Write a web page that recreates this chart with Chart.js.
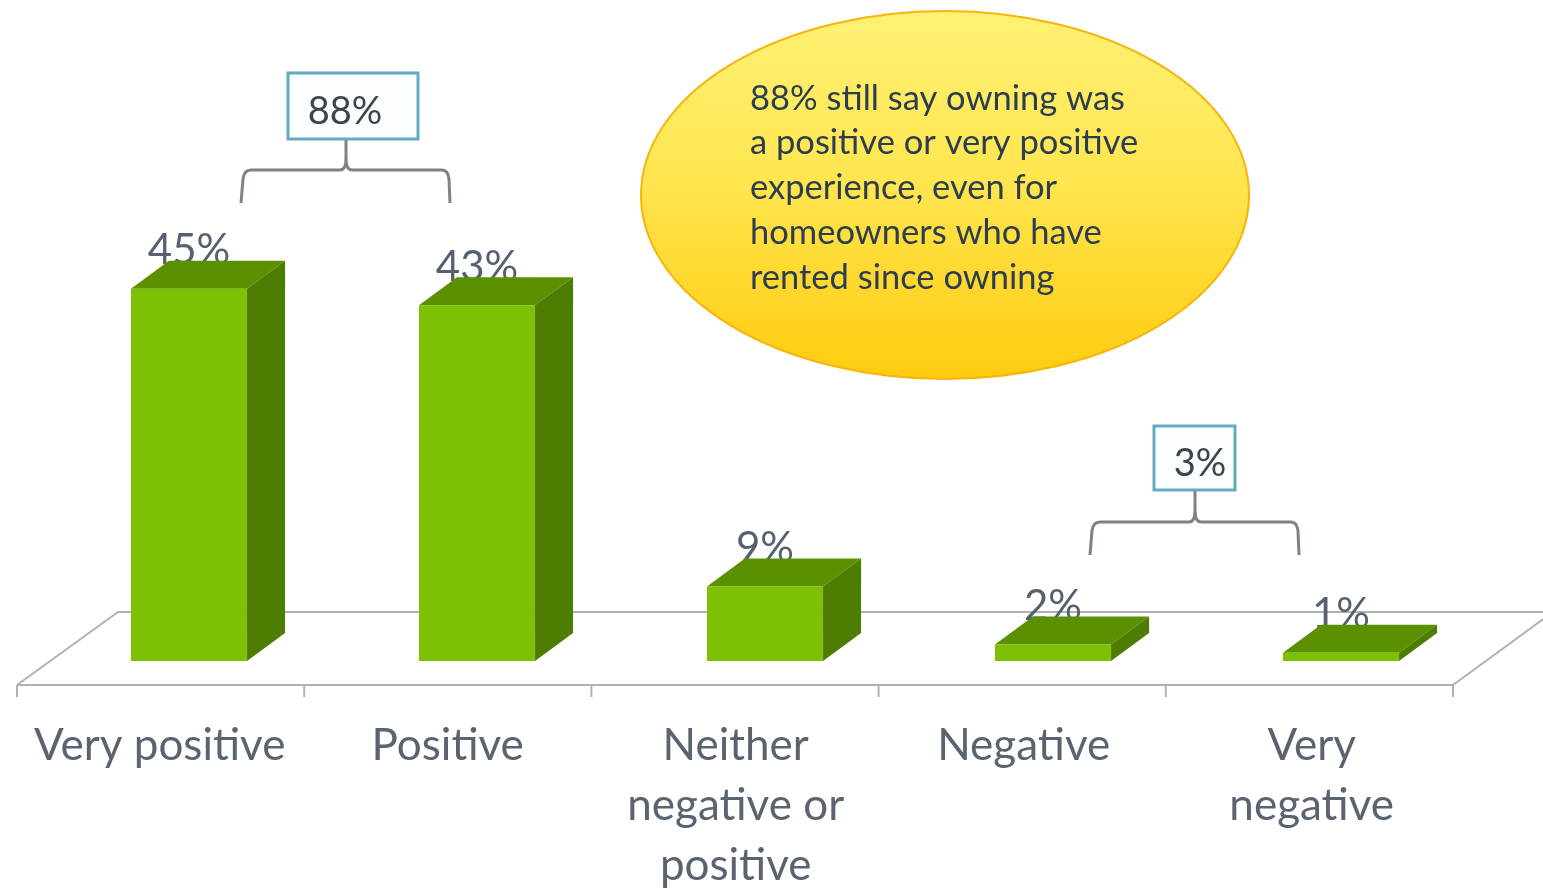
<!DOCTYPE html>
<html><head><meta charset="utf-8">
<style>html,body{margin:0;padding:0;background:#fff;overflow:hidden}canvas{display:block}</style>
<script src="https://cdn.jsdelivr.net/npm/chart.js@4"></script>
</head><body><div style="width:1543px;height:889px;position:relative"><canvas id="c"></canvas></div>
<script>
const categories = [["Very positive"],["Positive"],["Neither","negative or","positive"],["Negative"],["Very","negative"]];
const values = [45,43,9,2,1];
const calloutTexts = ["88%","3%"];
const noteLines = ["88% still say owning was","a positive or very positive","experience, even for","homeowners who have","rented since owning"];
const FONT = 'Lato, "Open Sans", sans-serif';
const DX = 38, DY = -28;

function poly(ctx, pts, fill){ctx.beginPath();pts.forEach((p,i)=>i?ctx.lineTo(p[0],p[1]):ctx.moveTo(p[0],p[1]));ctx.closePath();ctx.fillStyle=fill;ctx.fill();}

const floorAndFaces = {
  id:'floorAndFaces',
  beforeDatasetsDraw(chart){
    const {ctx,scales:{x}} = chart;
    const frontY = 685, backY = 612, fl = x.left-28, fr = x.right-32;
    ctx.save();
    ctx.strokeStyle='#b0b2b2';ctx.lineWidth=2;
    ctx.beginPath();
    ctx.moveTo(fl,frontY);ctx.lineTo(fr,frontY);
    ctx.moveTo(fl,frontY);ctx.lineTo(fl+101,backY);ctx.lineTo(fr+100,backY);
    ctx.moveTo(fr,frontY);ctx.lineTo(fr+100,backY);
    for(let i=0;i<=categories.length;i++){
      const t = fl+(fr-fl)*i/categories.length;
      ctx.moveTo(t,frontY);ctx.lineTo(t,frontY+12);
    }
    ctx.stroke();
    const meta = chart.getDatasetMeta(0);
    // value labels sit behind the bars
    ctx.font='42px '+FONT;ctx.fillStyle='#56616f';ctx.textAlign='center';ctx.textBaseline='middle';
    meta.data.forEach((b,i)=>ctx.fillText(values[i]+'%',b.x,b.y-38));
    meta.data.forEach(b=>{
      const l=b.x-b.width/2,r=b.x+b.width/2,t=b.y,bot=b.base;
      poly(ctx,[[l,t],[r,t],[r+DX,t+DY],[l+DX,t+DY]],'#5b9000');
      poly(ctx,[[r,t],[r+DX,t+DY],[r+DX,bot+DY],[r,bot]],'#4c7c00');
    });
    ctx.restore();
  },
  afterDraw(chart){
    const {ctx} = chart;
    ctx.save();
    // callouts
    const brace=(x0,xm,x1,yb,yt,boxL,boxT,boxR,boxB,txt,tx)=>{
      ctx.strokeStyle='#7d8385';ctx.lineWidth=3;ctx.beginPath();
      ctx.moveTo(x0,yb);ctx.lineTo(x0+2,yt+9);ctx.quadraticCurveTo(x0+3,yt,x0+10,yt);ctx.lineTo(xm-6,yt);
      ctx.quadraticCurveTo(xm,yt,xm,yt-12);ctx.quadraticCurveTo(xm,yt,xm+6,yt);
      ctx.lineTo(x1-8,yt);ctx.quadraticCurveTo(x1-2,yt,x1-1,yt+9);ctx.lineTo(x1,yb);
      ctx.moveTo(xm,yt-10);ctx.lineTo(xm,boxB);ctx.stroke();
      ctx.fillStyle='#fbfeff';ctx.strokeStyle='#62abc4';ctx.lineWidth=3;
      ctx.fillRect(boxL,boxT,boxR-boxL,boxB-boxT);ctx.strokeRect(boxL,boxT,boxR-boxL,boxB-boxT);
      ctx.fillStyle='#3c444c';ctx.font='38px '+FONT;ctx.textAlign='center';ctx.textBaseline='middle';
      ctx.fillText(txt,tx,(boxT+boxB)/2+6);
    };
    brace(241,346,450,203,170,288,73,418,139,calloutTexts[0],345);
    brace(1090,1195,1299,555,522,1154,426,1235,490,calloutTexts[1],1200);
    // ellipse note
    const g=ctx.createLinearGradient(0,10,0,380);
    g.addColorStop(0,'#fff176');g.addColorStop(0.45,'#ffe650');g.addColorStop(1,'#ffcb0f');
    ctx.beginPath();ctx.ellipse(945,195,304,184,0,0,Math.PI*2);
    ctx.fillStyle=g;ctx.fill();ctx.strokeStyle='#f5b50a';ctx.lineWidth=2;ctx.stroke();
    ctx.fillStyle='#2c3d4e';ctx.font='34.5px '+FONT;ctx.textAlign='left';ctx.textBaseline='middle';
    noteLines.forEach((s,i)=>ctx.fillText(s,750,98.5+i*44.8));
    ctx.restore();
  }
};

new Chart(document.getElementById('c'),{
  type:'bar',
  data:{labels:categories,datasets:[{data:values,backgroundColor:'#7dc005',borderWidth:0,categoryPercentage:1,barPercentage:0.403}]},
  options:{
    responsive:true,maintainAspectRatio:false,animation:false,
    layout:{padding:{top:82,right:58,left:0,bottom:0}},
    plugins:{legend:{display:false},tooltip:{enabled:false}},
    scales:{
      x:{type:'category',grid:{display:false},border:{display:false},
        afterFit(s){s.height=228;},
        ticks:{labelOffset:-29.3,padding:47,maxRotation:0,minRotation:0,autoSkip:false,color:'#5a6470',font:{family:FONT,size:44,lineHeight:1.365}}},
      y:{min:0,max:70,display:true,grid:{display:false},border:{display:false},
        afterFit(s){s.width=45;},ticks:{display:false}}
    }
  },
  plugins:[floorAndFaces]
});
</script></body></html>
